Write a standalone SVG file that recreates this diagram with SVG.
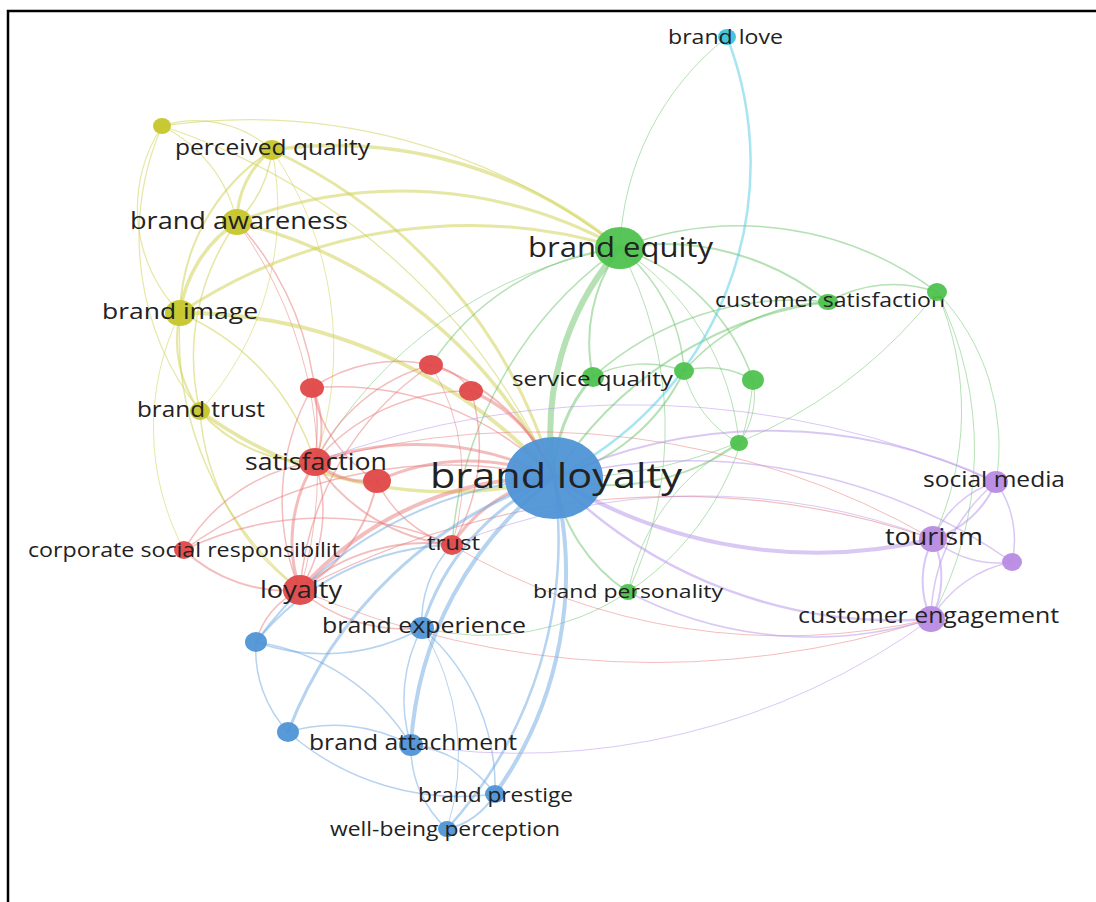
<svg xmlns="http://www.w3.org/2000/svg" width="1096" height="902" viewBox="0 0 1096 902">
<style>
.e{fill:none;stroke-opacity:0.5;stroke-linecap:round}
.ey{stroke:#cdd04a}
.eg{stroke:#6cc46c}
.er{stroke:#ea7c7c}
.eb{stroke:#6ea8e2}
.ep{stroke:#b592ea}
.ec{stroke:#4fcbe4}
.ny{fill:#c6c62a}
.ng{fill:#4ec24e}
.nr{fill:#e04848}
.nb{fill:#4f93d6}
.np{fill:#b88be3}
.nc{fill:#3cc3dc}
ellipse{fill-opacity:0.95}
text{font-family:"Open Sans","DejaVu Sans",sans-serif;fill:#222222}
</style>
<rect x="0" y="0" width="1096" height="902" fill="#ffffff"/>
<path d="M8 902 V11 H1096" fill="none" stroke="#000" stroke-width="2.5"/>
<g id="connectors">
<!-- yellow -->
<path class="e ey" stroke-width="1.2" d="M162 126 A113 113 0 0 1 272 150"/>
<path class="e ey" stroke-width="1.2" d="M162 126 A140 140 0 0 1 237 222"/>
<path class="e ey" stroke-width="1.2" d="M162 126 A150 150 0 0 0 180 313"/>
<path class="e ey" stroke-width="1.2" d="M162 126 A280 280 0 0 0 200 411"/>
<path class="e ey" stroke-width="1.2" d="M162 126 A600 600 0 0 1 620 248"/>
<path class="e ey" stroke-width="1.2" d="M162 126 A650 650 0 0 1 554 478"/>
<path class="e ey" stroke-width="3" d="M272 150 A90 90 0 0 0 237 222"/>
<path class="e ey" stroke-width="1.5" d="M272 150 A120 120 0 0 1 237 222"/>
<path class="e ey" stroke-width="2" d="M272 150 A200 200 0 0 0 180 313"/>
<path class="e ey" stroke-width="3.5" d="M272 150 A450 450 0 0 1 620 248"/>
<path class="e ey" stroke-width="3" d="M272 150 A520 520 0 0 1 554 478"/>
<path class="e ey" stroke-width="1" d="M272 150 A300 300 0 0 1 200 411"/>
<path class="e ey" stroke-width="1" d="M272 150 A350 350 0 0 1 315 462"/>
<path class="e ey" stroke-width="3.5" d="M237 222 A130 130 0 0 0 180 313"/>
<path class="e ey" stroke-width="3" d="M237 222 A450 450 0 0 1 620 248"/>
<path class="e ey" stroke-width="3.5" d="M237 222 A480 480 0 0 1 554 478"/>
<path class="e ey" stroke-width="1.5" d="M237 222 A230 230 0 0 0 200 411"/>
<path class="e er" stroke-width="1.5" d="M237 222 A300 300 0 0 1 315 462"/>
<path class="e er" stroke-width="1" d="M237 222 A420 420 0 0 1 300 590"/>
<path class="e ey" stroke-width="2" d="M180 313 A120 120 0 0 0 200 411"/>
<path class="e ey" stroke-width="3" d="M180 313 A520 520 0 0 1 620 248"/>
<path class="e ey" stroke-width="4" d="M180 313 A500 500 0 0 1 554 478"/>
<path class="e ey" stroke-width="1.5" d="M180 313 A240 240 0 0 1 315 462"/>
<path class="e ey" stroke-width="1.5" d="M180 313 A330 330 0 0 0 300 590"/>
<path class="e ey" stroke-width="1" d="M180 313 A260 260 0 0 0 184 550"/>
<path class="e ey" stroke-width="3.5" d="M200 411 A420 420 0 0 0 554 478"/>
<path class="e ey" stroke-width="2" d="M200 411 A150 150 0 0 0 315 462"/>
<path class="e ey" stroke-width="1.5" d="M200 411 A240 240 0 0 0 300 590"/>
<!-- green -->
<path class="e eg" stroke-width="6" d="M620 248 A280 280 0 0 0 554 478"/>
<path class="e eg" stroke-width="2" d="M620 248 A160 160 0 0 0 593 377"/>
<path class="e eg" stroke-width="1.5" d="M620 248 A170 170 0 0 1 684 371"/>
<path class="e eg" stroke-width="1.5" d="M620 248 A210 210 0 0 1 753 380"/>
<path class="e eg" stroke-width="2" d="M620 248 A260 260 0 0 1 828 302"/>
<path class="e eg" stroke-width="1.5" d="M620 248 A330 330 0 0 1 937 292"/>
<path class="e eg" stroke-width="1" d="M620 248 A260 260 0 0 1 739 443"/>
<path class="e eg" stroke-width="1.5" d="M620 248 A400 400 0 0 0 452 545"/>
<path class="e eg" stroke-width="1" d="M620 248 A430 430 0 0 0 315 462"/>
<path class="e eg" stroke-width="1.5" d="M620 248 A260 260 0 0 0 431 365"/>
<path class="e eg" stroke-width="1" d="M620 248 A380 380 0 0 1 628 592"/>
<path class="e eg" stroke-width="1" d="M937 292 A350 350 0 0 1 931 619"/>
<path class="e eg" stroke-width="1" d="M937 292 A300 300 0 0 1 933 539"/>
<path class="e eg" stroke-width="1" d="M937 292 A220 220 0 0 1 996 482"/>
<path class="e eg" stroke-width="1.5" d="M828 302 A130 130 0 0 1 937 292"/>
<path class="e eg" stroke-width="2" d="M828 302 A380 380 0 0 0 554 478"/>
<path class="e eg" stroke-width="1.5" d="M828 302 A300 300 0 0 0 593 377"/>
<path class="e eg" stroke-width="1.5" d="M828 302 A200 200 0 0 0 684 371"/>
<path class="e eg" stroke-width="3" d="M593 377 A150 150 0 0 0 554 478"/>
<path class="e eg" stroke-width="1.5" d="M593 377 A110 110 0 0 1 684 371"/>
<path class="e eg" stroke-width="1.5" d="M684 371 A90 90 0 0 1 753 380"/>
<path class="e eg" stroke-width="1" d="M684 371 A110 110 0 0 0 739 443"/>
<path class="e eg" stroke-width="1" d="M753 380 A80 80 0 0 1 739 443"/>
<path class="e eg" stroke-width="2" d="M684 371 A200 200 0 0 1 554 478"/>
<path class="e eg" stroke-width="2" d="M739 443 A220 220 0 0 1 554 478"/>
<path class="e eg" stroke-width="1" d="M937 292 A480 480 0 0 1 554 478"/>
<path class="e eg" stroke-width="2" d="M628 592 A170 170 0 0 1 554 478"/>
<path class="e eg" stroke-width="1" d="M628 592 A210 210 0 0 1 739 443"/>
<path class="e eg" stroke-width="1" d="M628 592 A260 260 0 0 1 422 628"/>
<path class="e eg" stroke-width="1" d="M628 592 A280 280 0 0 0 753 380"/>
<!-- red -->
<path class="e er" stroke-width="1.5" d="M431 365 A150 150 0 0 0 312 388"/>
<path class="e er" stroke-width="1.5" d="M431 365 A60 60 0 0 1 471 391"/>
<path class="e er" stroke-width="1.5" d="M431 365 A180 180 0 0 0 315 462"/>
<path class="e er" stroke-width="2" d="M431 365 A200 200 0 0 1 554 478"/>
<path class="e er" stroke-width="1.5" d="M431 365 A300 300 0 0 0 300 590"/>
<path class="e er" stroke-width="1" d="M431 365 A220 220 0 0 1 452 545"/>
<path class="e er" stroke-width="2" d="M312 388 A90 90 0 0 1 315 462"/>
<path class="e er" stroke-width="1.5" d="M312 388 A140 140 0 0 0 377 481"/>
<path class="e er" stroke-width="1.5" d="M312 388 A230 230 0 0 0 300 590"/>
<path class="e er" stroke-width="1.5" d="M312 388 A300 300 0 0 1 554 478"/>
<path class="e er" stroke-width="3" d="M471 391 A150 150 0 0 1 554 478"/>
<path class="e er" stroke-width="1.5" d="M471 391 A200 200 0 0 0 315 462"/>
<path class="e er" stroke-width="1.5" d="M471 391 A190 190 0 0 1 452 545"/>
<path class="e er" stroke-width="3" d="M315 462 A80 80 0 0 0 377 481"/>
<path class="e er" stroke-width="3" d="M315 462 A150 150 0 0 0 300 590"/>
<path class="e er" stroke-width="1.5" d="M315 462 A150 150 0 0 1 300 590"/>
<path class="e er" stroke-width="1.5" d="M315 462 A180 180 0 0 0 184 550"/>
<path class="e er" stroke-width="2" d="M315 462 A190 190 0 0 0 452 545"/>
<path class="e er" stroke-width="3" d="M315 462 A300 300 0 0 1 554 478"/>
<path class="e er" stroke-width="3" d="M377 481 A220 220 0 0 1 554 478"/>
<path class="e er" stroke-width="2" d="M377 481 A160 160 0 0 1 300 590"/>
<path class="e er" stroke-width="1.5" d="M377 481 A120 120 0 0 0 452 545"/>
<path class="e er" stroke-width="3" d="M452 545 A150 150 0 0 1 554 478"/>
<path class="e er" stroke-width="2" d="M452 545 A190 190 0 0 0 300 590"/>
<path class="e er" stroke-width="1.5" d="M452 545 A320 320 0 0 0 184 550"/>
<path class="e er" stroke-width="2" d="M184 550 A150 150 0 0 0 300 590"/>
<path class="e er" stroke-width="1.5" d="M184 550 A450 450 0 0 1 554 478"/>
<path class="e er" stroke-width="4" d="M300 590 A330 330 0 0 1 554 478"/>
<path class="e er" stroke-width="1.2" d="M300 590 A800 800 0 0 1 933 539"/>
<path class="e er" stroke-width="1" d="M300 590 A900 900 0 0 0 931 619"/>
<path class="e er" stroke-width="1" d="M452 545 A650 650 0 0 0 931 619"/>
<path class="e er" stroke-width="1.5" d="M300 590 A160 160 0 0 0 422 628"/>
<path class="e er" stroke-width="1.5" d="M300 590 A80 80 0 0 0 256 642"/>
<path class="e er" stroke-width="1" d="M315 462 A800 800 0 0 1 933 539"/>
<!-- blue -->
<path class="e eb" stroke-width="3" d="M554 478 A240 240 0 0 0 422 628"/>
<path class="e eb" stroke-width="4" d="M554 478 A360 360 0 0 0 411 745"/>
<path class="e eb" stroke-width="4" d="M554 478 A380 380 0 0 1 495 794"/>
<path class="e eb" stroke-width="2.5" d="M554 478 A430 430 0 0 1 447 829"/>
<path class="e eb" stroke-width="2" d="M554 478 A400 400 0 0 0 256 642"/>
<path class="e eb" stroke-width="3" d="M554 478 A430 430 0 0 0 288 732"/>
<path class="e ep" stroke-width="4" d="M554 478 A500 500 0 0 0 933 539"/>
<path class="e ep" stroke-width="2.5" d="M554 478 A480 480 0 0 0 931 619"/>
<path class="e ep" stroke-width="2" d="M554 478 A520 520 0 0 1 996 482"/>
<path class="e ep" stroke-width="1.5" d="M554 478 A560 560 0 0 1 1012 562"/>
<path class="e eb" stroke-width="1.5" d="M422 628 A200 200 0 0 1 256 642"/>
<path class="e eb" stroke-width="1.5" d="M422 628 A150 150 0 0 0 411 745"/>
<path class="e eb" stroke-width="1.5" d="M422 628 A210 210 0 0 1 495 794"/>
<path class="e eb" stroke-width="1.5" d="M256 642 A120 120 0 0 0 288 732"/>
<path class="e eb" stroke-width="1.5" d="M256 642 A220 220 0 0 1 411 745"/>
<path class="e eb" stroke-width="1.5" d="M288 732 A160 160 0 0 1 411 745"/>
<path class="e eb" stroke-width="1.5" d="M288 732 A260 260 0 0 0 495 794"/>
<path class="e eb" stroke-width="1.5" d="M411 745 A120 120 0 0 1 495 794"/>
<path class="e eb" stroke-width="1.5" d="M411 745 A110 110 0 0 0 447 829"/>
<path class="e eb" stroke-width="2" d="M495 794 A75 75 0 0 1 447 829"/>
<path class="e ep" stroke-width="1" d="M411 745 A700 700 0 0 0 931 619"/>
<path class="e eb" stroke-width="2" d="M256 642 A260 260 0 0 1 452 545"/>
<path class="e eb" stroke-width="1.5" d="M422 628 A110 110 0 0 1 452 545"/>
<path class="e eb" stroke-width="1" d="M447 829 A240 240 0 0 0 422 628"/>
<path class="e ec" stroke-width="2.5" d="M727 37 A350 350 0 0 1 554 478"/>
<path class="e eg" stroke-width="1" d="M727 37 A280 280 0 0 0 620 248"/>
<!-- purple -->
<path class="e ep" stroke-width="2" d="M996 482 A100 100 0 0 1 933 539"/>
<path class="e ep" stroke-width="1.5" d="M996 482 A100 100 0 0 0 933 539"/>
<path class="e ep" stroke-width="1.5" d="M996 482 A180 180 0 0 0 931 619"/>
<path class="e ep" stroke-width="1.5" d="M996 482 A100 100 0 0 1 1012 562"/>
<path class="e ep" stroke-width="2" d="M933 539 A90 90 0 0 0 931 619"/>
<path class="e ep" stroke-width="2" d="M933 539 A90 90 0 0 1 931 619"/>
<path class="e ep" stroke-width="1.5" d="M933 539 A100 100 0 0 0 1012 562"/>
<path class="e ep" stroke-width="1.5" d="M931 619 A120 120 0 0 1 1012 562"/>
<path class="e ep" stroke-width="1" d="M996 482 A900 900 0 0 0 315 462"/>
<path class="e ep" stroke-width="1" d="M933 539 A650 650 0 0 0 452 545"/>
<path class="e ep" stroke-width="1.5" d="M628 592 A400 400 0 0 0 931 619"/>
</g>
<g id="n-y0"><ellipse class="ny" cx="162" cy="126" rx="9" ry="8"/></g>
<g id="n-perceived-quality"><ellipse class="ny" cx="272" cy="150" rx="12" ry="10"/><text x="175" y="155" font-size="21" textLength="195" lengthAdjust="spacingAndGlyphs">perceived quality</text></g>
<g id="n-brand-awareness"><ellipse class="ny" cx="237" cy="222" rx="15" ry="13"/><text x="130" y="229" font-size="23" textLength="218" lengthAdjust="spacingAndGlyphs">brand awareness</text></g>
<g id="n-brand-image"><ellipse class="ny" cx="180" cy="313" rx="15" ry="13"/><text x="102" y="319" font-size="22.5" textLength="156" lengthAdjust="spacingAndGlyphs">brand image</text></g>
<g id="n-brand-trust"><ellipse class="ny" cx="200" cy="411" rx="10" ry="9"/><text x="137" y="417" font-size="21" textLength="128" lengthAdjust="spacingAndGlyphs">brand trust</text></g>
<g id="n-brand-equity"><ellipse class="ng" cx="620" cy="248" rx="25" ry="21"/><text x="528" y="257" font-size="26.5" textLength="185" lengthAdjust="spacingAndGlyphs">brand equity</text></g>
<g id="n-customer-satisfaction"><ellipse class="ng" cx="828" cy="302" rx="10" ry="8"/><text x="715" y="307" font-size="19.6" textLength="230" lengthAdjust="spacingAndGlyphs">customer satisfaction</text></g>
<g id="n-g1"><ellipse class="ng" cx="937" cy="292" rx="10" ry="9"/></g>
<g id="n-service-quality"><ellipse class="ng" cx="593" cy="377" rx="11" ry="10"/><text x="512" y="386" font-size="20.6" textLength="161" lengthAdjust="spacingAndGlyphs">service quality</text></g>
<g id="n-g2"><ellipse class="ng" cx="684" cy="371" rx="10" ry="9"/></g>
<g id="n-g3"><ellipse class="ng" cx="753" cy="380" rx="11" ry="10"/></g>
<g id="n-g4"><ellipse class="ng" cx="739" cy="443" rx="9" ry="8"/></g>
<g id="n-brand-personality"><ellipse class="ng" cx="628" cy="592" rx="9" ry="8"/><text x="533" y="598" font-size="18.5" textLength="190" lengthAdjust="spacingAndGlyphs">brand personality</text></g>
<g id="n-r1"><ellipse class="nr" cx="431" cy="365" rx="12" ry="10"/></g>
<g id="n-r2"><ellipse class="nr" cx="312" cy="388" rx="12" ry="10"/></g>
<g id="n-r3"><ellipse class="nr" cx="471" cy="391" rx="12" ry="10"/></g>
<g id="n-r4"><ellipse class="nr" cx="377" cy="481" rx="14" ry="12"/></g>
<g id="n-satisfaction"><ellipse class="nr" cx="315" cy="462" rx="16" ry="14"/><text x="245" y="470" font-size="22.9" textLength="142" lengthAdjust="spacingAndGlyphs">satisfaction</text></g>
<g id="n-trust"><ellipse class="nr" cx="452" cy="545" rx="11" ry="10"/><text x="427" y="550" font-size="20.7" textLength="53" lengthAdjust="spacingAndGlyphs">trust</text></g>
<g id="n-csr"><ellipse class="nr" cx="184" cy="550" rx="10" ry="9"/><text x="28" y="557" font-size="19.8" textLength="312" lengthAdjust="spacingAndGlyphs">corporate social responsibilit</text></g>
<g id="n-loyalty"><ellipse class="nr" cx="300" cy="590" rx="17" ry="15"/><text x="260" y="598" font-size="22.9" textLength="82" lengthAdjust="spacingAndGlyphs">loyalty</text></g>
<g id="n-brand-loyalty"><ellipse class="nb" cx="554" cy="478" rx="49" ry="41"/><text x="430" y="488" font-size="35" textLength="252" lengthAdjust="spacingAndGlyphs">brand loyalty</text></g>
<g id="n-brand-love"><ellipse class="nc" cx="727" cy="37" rx="9" ry="8"/><text x="668" y="44" font-size="19.5" textLength="115" lengthAdjust="spacingAndGlyphs">brand love</text></g>
<g id="n-brand-experience"><ellipse class="nb" cx="422" cy="628" rx="12" ry="11"/><text x="322" y="633" font-size="21.3" textLength="204" lengthAdjust="spacingAndGlyphs">brand experience</text></g>
<g id="n-b1"><ellipse class="nb" cx="256" cy="642" rx="11" ry="10"/></g>
<g id="n-b2"><ellipse class="nb" cx="288" cy="732" rx="11" ry="10"/></g>
<g id="n-brand-attachment"><ellipse class="nb" cx="411" cy="745" rx="12" ry="11"/><text x="309" y="750" font-size="21" textLength="208" lengthAdjust="spacingAndGlyphs">brand attachment</text></g>
<g id="n-brand-prestige"><ellipse class="nb" cx="495" cy="794" rx="10" ry="9"/><text x="418" y="802" font-size="19.4" textLength="155" lengthAdjust="spacingAndGlyphs">brand prestige</text></g>
<g id="n-well-being-perception"><ellipse class="nb" cx="447" cy="829" rx="9" ry="8"/><text x="330" y="836" font-size="19.5" textLength="230" lengthAdjust="spacingAndGlyphs">well-being perception</text></g>
<g id="n-social-media"><ellipse class="np" cx="996" cy="482" rx="12" ry="11"/><text x="923" y="487" font-size="20.9" textLength="142" lengthAdjust="spacingAndGlyphs">social media</text></g>
<g id="n-tourism"><ellipse class="np" cx="933" cy="539" rx="14" ry="13"/><text x="885" y="545" font-size="23" textLength="98" lengthAdjust="spacingAndGlyphs">tourism</text></g>
<g id="n-p1"><ellipse class="np" cx="1012" cy="562" rx="10" ry="9"/></g>
<g id="n-customer-engagement"><ellipse class="np" cx="931" cy="619" rx="14" ry="13"/><text x="798" y="623" font-size="21.3" textLength="261" lengthAdjust="spacingAndGlyphs">customer engagement</text></g>
</svg>
